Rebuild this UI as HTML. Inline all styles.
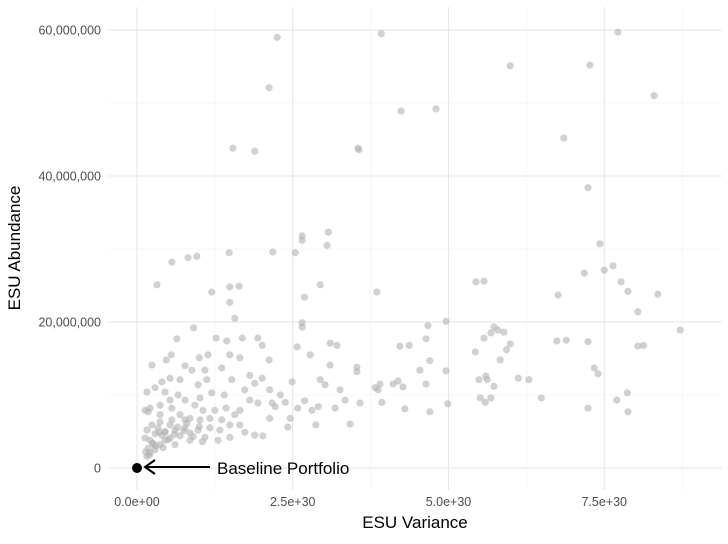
<!DOCTYPE html>
<html><head><meta charset="utf-8"><style>
html,body{margin:0;padding:0;background:#fff;}
svg text{font-family:"Liberation Sans",sans-serif;}
</style></head><body>
<svg id="chart" width="728" height="539" viewBox="0 0 728 539" xmlns="http://www.w3.org/2000/svg">
<g id="grid"></g>
<g id="points"></g>
<g id="axes"></g>
<g>
<line x1="210" y1="467" x2="145" y2="467" stroke="#000" stroke-width="2"/>
<polyline points="155,460 145,467 155,474" fill="none" stroke="#000" stroke-width="2"/>
<text x="217" y="474" font-size="17" fill="#000">Baseline Portfolio</text>
</g>
<text x="415" y="528" font-size="17" text-anchor="middle" fill="#000">ESU Variance</text>
<text transform="translate(20,248) rotate(-90)" font-size="17" text-anchor="middle" fill="#000">ESU Abundance</text>
</svg>
<script>
const xTicks=[0,2.5,5,7.5];
const xTickLabels=["0.0e+00","2.5e+30","5.0e+30","7.5e+30"];
const yTicks=[0,20,40,60];
const yTickLabels=["0","20,000,000","40,000,000","60,000,000"];
const baseline=[0,0];
// x in units of 1e30, y in millions
const xs=[1.54,1.89,2.12,2.25,3.55,3.56,3.92,4.24,4.80,5.99,6.85,7.27,7.72,8.30,7.24,
0.32,0.56,0.82,0.96,1.48,1.49,1.64,1.20,1.49,2.18,2.54,2.65,2.65,3.07,3.05,2.94,2.69,2.65,2.65,3.85,5.44,5.57,6.76,7.18,7.43,7.50,7.64,7.77,7.88,8.04,8.36,8.72,8.04,8.13,7.24,6.89,6.74,7.34,7.40,7.24,7.70,7.87,7.88,6.29,6.49,6.12,5.83,5.99,5.93,5.79,5.73,5.68,5.89,5.57,5.43,5.60,5.49,5.62,5.73,5.68,5.59,5.51,4.96,4.99,4.96,4.70,4.54,4.67,4.64,4.37,4.22,4.64,4.70,4.27,4.19,4.30,4.11,3.90,3.87,3.93,3.82,3.53,3.53,3.58,3.42,3.34,3.26,3.21,3.10,3.10,2.94,3.02,2.78,2.57,2.81,2.69,2.87,2.49,2.46,2.42,2.30,2.17,2.38,2.13,2.12,2.01,1.94,1.69,1.65,1.57,1.44,1.27,1.49,1.52,1.36,1.14,1.00,0.91,0.64,0.55,0.47,0.24,0.77,0.88,1.09,1.12,0.98,0.69,0.53,0.40,0.29,0.16,0.13,0.21,0.37,0.53,0.77,1.01,1.20,1.40,1.73,1.81,1.94,1.65,1.43,1.25,1.06,1.89,2.01,2.02,1.89,1.65,1.49,1.33,1.17,0.98,0.77,0.61,0.45,0.29,0.21,0.18,0.21,0.29,0.37,0.45,0.53,0.69,0.85,1.01,0.85,0.69,0.56,0.37,0.24,0.16,0.13,0.18,0.37,0.34,0.53,0.77,1.17,1.36,1.57,1.49,1.73,2.22,2.58,2.91,3.18,2.13,1.81,0.66,0.45,0.93,0.56,1.09,1.30,0.26,0.16,0.14,0.40,0.61,0.85,0.30,0.42,0.60,0.75,0.90,1.05,0.50,0.35,0.25,0.65,0.80,1.00,0.20,0.45];
const ys=[43.8,43.4,52.1,59.0,43.8,43.6,59.5,48.9,49.2,55.1,45.2,55.2,59.7,51.0,38.4,
25.1,28.2,28.8,29.0,29.5,24.8,24.9,24.1,22.7,29.6,29.5,31.8,31.2,32.3,30.5,25.1,23.4,19.9,19.3,24.1,25.5,25.6,23.7,26.7,30.7,27.1,27.7,25.5,24.2,21.4,23.8,18.9,16.7,16.8,17.3,17.5,17.4,13.7,12.9,8.2,9.3,10.3,7.7,12.1,9.6,12.3,14.8,17.0,16.2,18.9,19.3,18.5,18.6,17.8,15.9,12.6,12.1,12.1,11.2,9.6,9.0,9.6,20.1,8.8,13.3,14.7,13.4,19.5,17.7,16.8,16.7,11.5,7.7,11.1,11.9,8.1,11.5,11.5,10.7,9.0,11.0,13.8,13.2,8.9,6.0,9.3,10.7,16.8,17.1,14.1,12.1,11.4,15.5,16.6,7.9,9.2,5.9,11.8,6.8,5.6,10.0,8.9,9.0,6.8,14.8,16.8,17.8,17.8,15.1,20.5,17.4,17.8,15.5,12.1,13.7,15.5,15.1,19.2,17.7,15.5,14.8,14.1,14.0,13.4,13.4,12.1,11.4,12.1,12.3,11.8,11.0,10.4,7.9,8.2,8.6,9.3,9.3,9.6,10.3,10.0,10.7,9.3,8.9,7.9,8.2,7.9,7.9,11.6,12.3,4.4,4.5,5.9,5.9,5.2,5.5,5.2,5.5,5.2,4.9,4.7,3.8,2.7,2.1,2.5,3.2,3.8,4.1,4.4,4.8,6.6,6.8,7.3,6.6,6.3,5.9,5.2,4.1,7.7,7.3,5.5,5.9,6.6,6.8,6.6,7.3,4.2,4.9,8.4,8.2,8.4,8.2,10.7,12.7,10.0,10.4,8.6,8.2,4.2,3.8,3.3,1.6,2.2,4.5,3.2,3.8,3.0,2.8,4.6,5.1,4.3,3.6,3.9,4.9,3.4,5.6,6.1,5.7,1.8,5.0];
const NS="http://www.w3.org/2000/svg";
const L=109,R=722,T=7,B=490;
function sx(v){return 137+v*62.3;}
function sy(v){return 468-v*7.3;}
const grid=document.getElementById('grid'),pts=document.getElementById('points'),axes=document.getElementById('axes');
function mk(tag,attrs,parent){const e=document.createElementNS(NS,tag);for(const k in attrs)e.setAttribute(k,attrs[k]);parent.appendChild(e);return e;}
for(let i=0;i<8;i++){const v=i*1.25;const major=i%2===0;
 const g=mk('line',{x1:sx(v),x2:sx(v),y1:T,y2:B,stroke:major?'#e6e6e6':'#f0f0f0','stroke-width':major?1.1:0.6},grid);
 
 }
for(let i=0;i<7;i++){const v=i*10;const major=i%2===0;
 const g=mk('line',{x1:L,x2:R,y1:sy(v),y2:sy(v),stroke:major?'#e6e6e6':'#f0f0f0','stroke-width':major?1.1:0.6},grid);
 
 }
xTicks.forEach((v,i)=>{const t=mk('text',{x:sx(v),y:506,'font-size':12.5,'text-anchor':'middle',fill:'#4d4d4d'},axes);t.textContent=xTickLabels[i];
 
 });
yTicks.forEach((v,i)=>{const t=mk('text',{x:101,y:sy(v)+4.5,'font-size':12.5,'text-anchor':'end',fill:'#4d4d4d'},axes);t.textContent=yTickLabels[i];
 
 });
for(let i=0;i<xs.length;i++){const c=mk('circle',{cx:sx(xs[i]),cy:sy(ys[i]),r:3.6,fill:'#b3b3b3','fill-opacity':0.6},pts);
 
 }
const b=mk('circle',{cx:sx(baseline[0]),cy:sy(baseline[1]),r:5,fill:'#000'},pts);


</script>
</body></html>
